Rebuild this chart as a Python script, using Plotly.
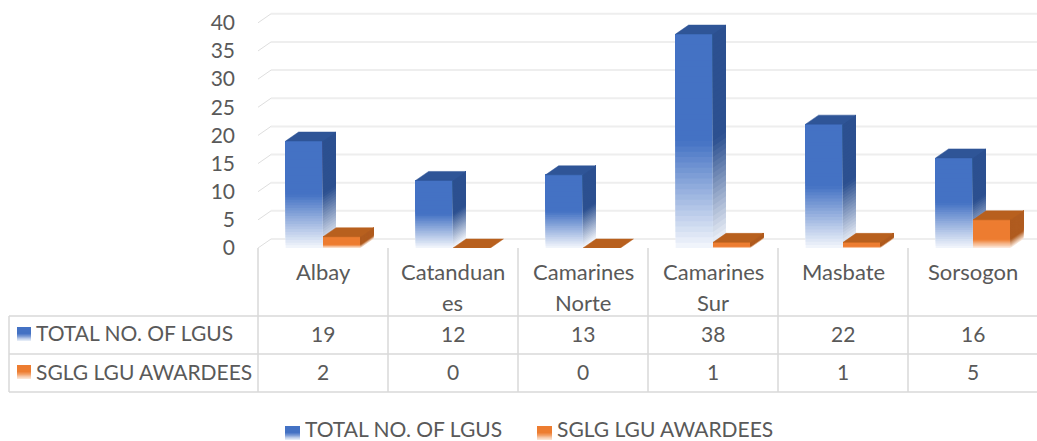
import plotly.graph_objects as go

categories = [["Albay"], ["Catanduan", "es"], ["Camarines", "Norte"], ["Camarines", "Sur"], ["Masbate"], ["Sorsogon"]]
series_names = ["TOTAL NO. OF LGUS", "SGLG LGU AWARDEES"]
total_lgus = [19, 12, 13, 38, 22, 16]
awardees = [2, 0, 0, 1, 1, 5]
y_ticks = [0, 5, 10, 15, 20, 25, 30, 35, 40]

W, H = 1037, 441
X0, CAT_W = 258, 130
Y0, PER_UNIT = 248, 5.63
DX = 13 / CAT_W
DY = 9 / PER_UNIT
BAR_W = 0.287
XMAX = (W - X0) / CAT_W
YMAX = Y0 / PER_UNIT
N = 40
TEXT = "#595959"
FONT = "Lato"


def mix(c1, c2, t):
    return "rgb(%d,%d,%d)" % tuple(round(a + (b - a) * t) for a, b in zip(c1, c2))


def px(x):
    return x / W


def py(y):
    return 1 - y / H


STYLES = [
    dict(front=(0x44, 0x72, 0xc4), side=(0x2c, 0x50, 0x90), top=(0x2f, 0x55, 0x97), pale=(0xf4, 0xf7, 0xfc), fade=0.5, off=-0.144),
    dict(front=(0xed, 0x7d, 0x31), side=(0xb0, 0x5c, 0x20), top=(0xb8, 0x60, 0x1e), pale=(0xfd, 0xee, 0xe3), fade=0.3, off=0.144),
]

fig = go.Figure()
shapes = []

# back wall + side wall gridlines, under the bars
for k in y_ticks:
    shapes.append(dict(type="line", xref="x", yref="y", x0=DX, x1=XMAX, y0=k + DY, y1=k + DY,
                       line=dict(color="#eeeeee", width=2), layer="below"))
    shapes.append(dict(type="line", xref="x", yref="y", x0=0, x1=DX, y0=k, y1=k + DY,
                       line=dict(color="#dedede", width=1), layer="below"))

for s, (vals, st) in enumerate(zip([total_lgus, awardees], STYLES)):
    xa, ya = ("x", "y") if s == 0 else ("x2", "y2")
    xs = [i + 0.5 + st["off"] for i in range(len(vals))]
    for j in range(N):
        t = (j + 0.5) / N
        f = min(t / st["fade"], 1)
        # each slice reaches up to the bar's top; later slices paint over, so no seams
        fig.add_trace(go.Bar(
            x=xs, y=[v * (N - j) / N for v in vals], base=[v * j / N for v in vals], width=BAR_W,
            marker=dict(color=mix(st["pale"], st["front"], f), line=dict(width=0)),
            xaxis=xa, yaxis=ya, hoverinfo="skip", showlegend=False))
        px_, py_ = [], []
        for x, v in zip(xs, vals):
            if v == 0:
                continue
            r = x + BAR_W / 2
            a, b = v * j / N, v
            px_ += [r, r + DX, r + DX, r, r, None]
            py_ += [a, a + DY, b + DY, b, a, None]
        c = mix(st["pale"], st["side"], f)
        fig.add_trace(go.Scatter(
            x=px_, y=py_, mode="lines", fill="toself", fillcolor=c, line=dict(color=c, width=0),
            xaxis=xa, yaxis=ya, hoverinfo="skip", showlegend=False))
    tx, ty = [], []
    for x, v in zip(xs, vals):
        l, r = x - BAR_W / 2, x + BAR_W / 2
        tx += [l, r, r + DX, l + DX, l, None]
        ty += [v, v, v + DY, v + DY, v, None]
    c = mix(st["top"], st["top"], 0)
    fig.add_trace(go.Scatter(
        x=tx, y=ty, mode="lines", fill="toself", fillcolor=c, line=dict(color=c, width=0.5),
        xaxis=xa, yaxis=ya, hoverinfo="skip", showlegend=False))

LINE = dict(color="#d9d9d9", width=1.5)
T1, T2, T3 = 316, 354, 392
for i in range(len(categories)):
    x = X0 + i * CAT_W
    shapes.append(dict(type="line", xref="paper", yref="paper", x0=px(x), x1=px(x), y0=py(Y0), y1=py(T3), line=LINE))
for yy in (T1, T2, T3):
    shapes.append(dict(type="line", xref="paper", yref="paper", x0=px(9), x1=1, y0=py(yy), y1=py(yy), line=LINE))
shapes.append(dict(type="line", xref="paper", yref="paper", x0=px(9), x1=px(9), y0=py(T1), y1=py(T3), line=LINE))


def swatch(x, y, w, h, st):
    n = 10
    for j in range(n):
        t = (j + 0.5) / n
        f = min(t / 0.5, 1)
        c = mix(st["pale"], st["front"], f)
        shapes.append(dict(type="rect", xref="paper", yref="paper", x0=px(x), x1=px(x + w),
                           y0=py(y + h - h * j / n), y1=py(y),
                           fillcolor=c, line=dict(width=0)))


def text(x, y, s, anchor="center", size=21):
    return dict(x=px(x), y=py(y), xref="paper", yref="paper", text=s, showarrow=False,
                xanchor=anchor, yanchor="middle", font=dict(family=FONT, size=size, color=TEXT))


anns = []
for i, lines in enumerate(categories):
    cx = X0 + (i + 0.5) * CAT_W
    for k, ln in enumerate(lines):
        anns.append(text(cx, 271 + 31 * k, ln, size=22))
    anns.append(text(cx, 333, str(total_lgus[i])))
    anns.append(text(cx, 371, str(awardees[i])))

anns.append(text(34, 332, series_names[0], "left"))
anns.append(text(34, 371, series_names[1], "left"))
anns.append(text(303, 428, series_names[0], "left"))
anns.append(text(555, 428, series_names[1], "left"))
swatch(17, 327, 14, 14, STYLES[0])
swatch(17, 365, 14, 14, STYLES[1])
swatch(285, 426, 15, 14, STYLES[0])
swatch(537, 426, 15, 14, STYLES[1])

dom_x = [px(X0), 1]
dom_y = [py(Y0), 1]
fig.update_layout(
    width=W, height=H, margin=dict(l=0, r=0, t=0, b=0, autoexpand=False),
    paper_bgcolor="white", plot_bgcolor="rgba(0,0,0,0)", barmode="overlay",
    shapes=shapes, annotations=anns, showlegend=False,
    xaxis=dict(domain=dom_x, range=[0, XMAX], visible=False, fixedrange=True),
    yaxis=dict(domain=dom_y, range=[0, YMAX], tickvals=y_ticks, showgrid=False, zeroline=False, showline=False,
               ticklabelstandoff=22, ticks="", tickfont=dict(family=FONT, size=21, color=TEXT), fixedrange=True),
    xaxis2=dict(domain=dom_x, range=[0, XMAX], visible=False, overlaying="x", anchor="y2", fixedrange=True),
    yaxis2=dict(domain=dom_y, range=[0, YMAX], visible=False, overlaying="y", anchor="x2", fixedrange=True),
)
fig.write_html("out.html", config={"displayModeBar": False}, default_width="1037px", default_height="441px",
               post_script="document.documentElement.style.overflow='hidden';document.body.style.margin='0';document.body.style.overflow='hidden';window.scrollTo(0,0);")
